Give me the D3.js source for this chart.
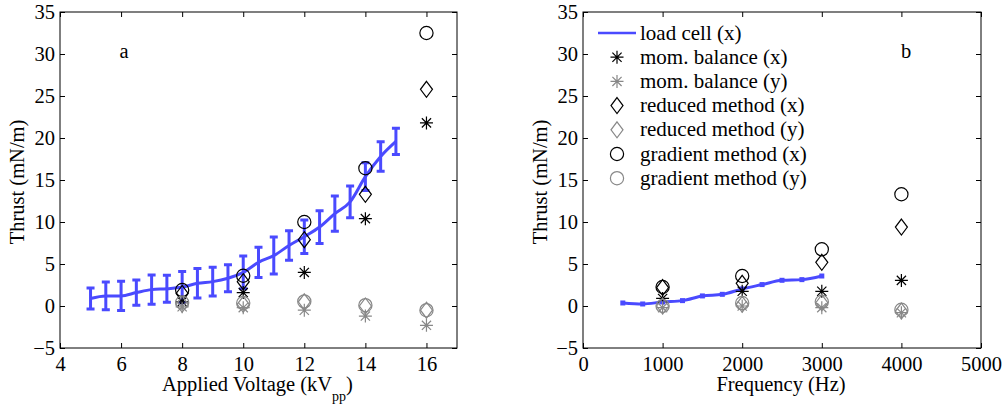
<!DOCTYPE html>
<html>
<head>
<meta charset="utf-8">
<script src="https://cdn.jsdelivr.net/npm/d3@7"></script>
<style>
  body { margin: 0; background: #fff; }
  svg text { font-family: "Liberation Serif", "Times New Roman", serif; }
</style>
</head>
<body>
<div id="chart"></div>
<script>
// panel a: voltage sweep
const voltA = [5, 5.5, 6, 6.5, 7, 7.5, 8, 8.5, 9, 9.5, 10, 10.5, 11, 11.5, 12, 12.5, 13, 13.5, 14, 14.5, 15];
const loadA = [0.9, 1.2, 1.2, 1.6, 1.95, 2.05, 2.25, 2.7, 2.9, 3.3, 4.0, 5.2, 6.0, 7.2, 8.25, 9.4, 11.0, 12.4, 15.4, 17.8, 19.6];
const errA  = [1.25, 1.65, 1.75, 1.5, 1.75, 1.6, 1.85, 1.75, 1.7, 1.6, 1.95, 1.8, 2.2, 1.75, 2.0, 1.95, 2.1, 1.9, 1.65, 1.75, 1.55];
const markVolt = [8, 10, 12, 14, 16];
const momXA  = [0.5, 1.6, 4.0, 10.4, 21.8];
const momYA  = [-0.1, -0.2, -0.5, -1.2, -2.3];
const redXA  = [1.5, 2.9, 7.9, 13.3, 25.8];
const redYA  = [0.2, 0.2, 0.5, 0.0, -0.5];
const gradXA = [1.9, 3.6, 10.0, 16.4, 32.5];
const gradYA = [0.4, 0.35, 0.55, 0.1, -0.5];

// panel b: frequency sweep
const freqB = [500, 750, 1000, 1250, 1500, 1750, 2000, 2250, 2500, 2750, 3000];
const loadB = [0.36, 0.24, 0.48, 0.64, 1.2, 1.39, 2.03, 2.55, 3.06, 3.14, 3.57];
const markFreq = [1000, 2000, 3000, 4000];
const momXB  = [0.9, 1.75, 1.75, 3.05];
const momYB  = [-0.2, 0.0, -0.2, -0.8];
const redXB  = [2.2, 2.7, 5.2, 9.4];
const redYB  = [0.0, 0.2, 0.4, -0.6];
const gradXB = [2.26, 3.57, 6.75, 13.3];
const gradYB = [0.0, 0.35, 0.5, -0.45];

const yTicks = [-5, 0, 5, 10, 15, 20, 25, 30, 35];
const legendLabels = ["load cell (x)", "mom. balance (x)", "mom. balance (y)", "reduced method (x)",
  "reduced method (y)", "gradient method (x)", "gradient method (y)"];

const blue = "#4a4aff", gray = "#888888";
const width = 1004, height = 407;
const plotTop = 12, plotBottom = 348;
const fs = 20.5;

const svg = d3.select("#chart").append("svg")
    .attr("width", width)
    .attr("height", height);

const star = "M-6.5,0L6.5,0M0,-6.5L0,6.5M-4.6,-4.6L4.6,4.6M-4.6,4.6L4.6,-4.6";
const diamond = "M0,-8L6,0L0,8L-6,0Z";

function marker(g, kind, color, x, y) {
    if (kind === "circle") {
        g.append("circle").attr("cx", x).attr("cy", y).attr("r", 6.6)
            .attr("fill", "none").attr("stroke", color).attr("stroke-width", 1.2);
    } else {
        g.append("path").attr("transform", `translate(${x},${y})`)
            .attr("d", kind === "star" ? star : diamond)
            .attr("fill", "none").attr("stroke", color).attr("stroke-width", 1.2);
    }
}

function drawPanel(opt) {
    const x = d3.scaleLinear().domain(opt.xDomain).range([opt.left, opt.right]);
    const y = d3.scaleLinear().domain([-5, 35]).range([plotBottom, plotTop]);
    const g = svg.append("g");

    // axes with inward ticks (box)
    g.append("g").attr("transform", `translate(0,${plotBottom})`)
        .call(d3.axisBottom(x).tickValues(opt.xTicks).tickSizeInner(-5).tickSizeOuter(0).tickPadding(8)
            .tickFormat(d3.format("d")))
        .call(a => a.select(".domain").remove());
    g.append("g").attr("transform", `translate(0,${plotTop})`)
        .call(d3.axisTop(x).tickValues(opt.xTicks).tickSizeInner(-5).tickSizeOuter(0).tickFormat(""))
        .call(a => a.select(".domain").remove());
    g.append("g").attr("transform", `translate(${opt.left},0)`)
        .call(d3.axisLeft(y).tickValues(yTicks).tickSizeInner(-5).tickSizeOuter(0).tickPadding(5)
            .tickFormat(d => d < 0 ? "\u2212" + Math.abs(d) : d))
        .call(a => a.select(".domain").remove());
    g.append("g").attr("transform", `translate(${opt.right},0)`)
        .call(d3.axisRight(y).tickValues(yTicks).tickSizeInner(-5).tickSizeOuter(0).tickFormat(""))
        .call(a => a.select(".domain").remove());
    g.selectAll("g").attr("font-family", null).attr("font-size", null);
    g.selectAll(".tick text").attr("font-size", fs).attr("fill", "#000");
    g.selectAll(".tick line").attr("stroke", "#000");
    g.append("rect").attr("x", opt.left).attr("y", plotTop)
        .attr("width", opt.right - opt.left).attr("height", plotBottom - plotTop)
        .attr("fill", "none").attr("stroke", "#000").attr("stroke-width", 1);

    // load cell line
    const pts = opt.xs.map((v, i) => [v, opt.load[i]]);
    g.append("path").datum(pts)
        .attr("d", d3.line().x(d => x(d[0])).y(d => y(d[1])).curve(d3.curveMonotoneX))
        .attr("fill", "none").attr("stroke", blue).attr("stroke-width", 3);
    if (opt.err) {
        opt.xs.forEach((v, i) => {
            const lo = y(opt.load[i] - opt.err[i]), hi = y(opt.load[i] + opt.err[i]);
            const cx = x(v);
            g.append("path")
                .attr("d", `M${cx},${lo}L${cx},${hi}M${cx - 4},${lo}L${cx + 4},${lo}M${cx - 4},${hi}L${cx + 4},${hi}`)
                .attr("stroke", blue).attr("stroke-width", 3).attr("fill", "none");
        });
    } else {
        g.selectAll(".sq").data(pts).enter().append("rect")
            .attr("x", d => x(d[0]) - 2.5).attr("y", d => y(d[1]) - 2.5)
            .attr("width", 5).attr("height", 5).attr("fill", blue);
    }

    // markers
    const series = [
        ["star", "#000", opt.momX], ["star", gray, opt.momY],
        ["diamond", "#000", opt.redX], ["diamond", gray, opt.redY],
        ["circle", "#000", opt.gradX], ["circle", gray, opt.gradY]
    ];
    series.forEach(s => {
        opt.markX.forEach((v, i) => marker(g, s[0], s[1], x(v), y(s[2][i])));
    });

    // panel letter
    g.append("text").attr("x", x(opt.letterPos[0])).attr("y", y(opt.letterPos[1]))
        .attr("font-size", fs).attr("text-anchor", "middle").text(opt.letter);

    // axis labels
    g.append("text")
        .attr("transform", `translate(${opt.left - 36},${(plotTop + plotBottom) / 2 + 2}) rotate(-90)`)
        .attr("text-anchor", "middle").attr("font-size", fs).text("Thrust (mN/m)");
    const xl = g.append("text").attr("x", (opt.left + opt.right) / 2 - 1).attr("y", 391)
        .attr("text-anchor", "middle").attr("font-size", fs);
    opt.xLabel(xl);
    return { x, y };
}

drawPanel({
    left: 60, right: 457, xDomain: [4, 17], xTicks: [4, 6, 8, 10, 12, 14, 16],
    xs: voltA, load: loadA, err: errA, markX: markVolt,
    momX: momXA, momY: momYA, redX: redXA, redY: redYA, gradX: gradXA, gradY: gradYA,
    letter: "a", letterPos: [6.1, 29.5],
    xLabel: t => {
        t.append("tspan").text("Applied Voltage (kV");
        t.append("tspan").attr("font-size", 14).attr("dy", 10).text("pp");
        t.append("tspan").attr("dy", -10).text(")");
    }
});

drawPanel({
    left: 583, right: 981, xDomain: [0, 5000], xTicks: [0, 1000, 2000, 3000, 4000, 5000],
    xs: freqB, load: loadB, err: null, markX: markFreq,
    momX: momXB, momY: momYB, redX: redXB, redY: redYB, gradX: gradXB, gradY: gradYB,
    letter: "b", letterPos: [4060, 29.5],
    xLabel: t => t.text("Frequency (Hz)")
});

// legend in panel b
const leg = svg.append("g");
legendLabels.forEach((lab, i) => {
    const cy = 33 + i * 24.2;
    if (i === 0) {
        leg.append("line").attr("x1", 598).attr("x2", 636).attr("y1", cy).attr("y2", cy)
            .attr("stroke", blue).attr("stroke-width", 2.5);
    } else {
        const kind = ["star", "diamond", "circle"][Math.floor((i - 1) / 2)];
        marker(leg, kind, (i % 2 === 1) ? "#000" : gray, 617, cy);
    }
    leg.append("text").attr("x", 640).attr("y", cy + 6.5).attr("font-size", 21).text(lab);
});
</script>
</body>
</html>
